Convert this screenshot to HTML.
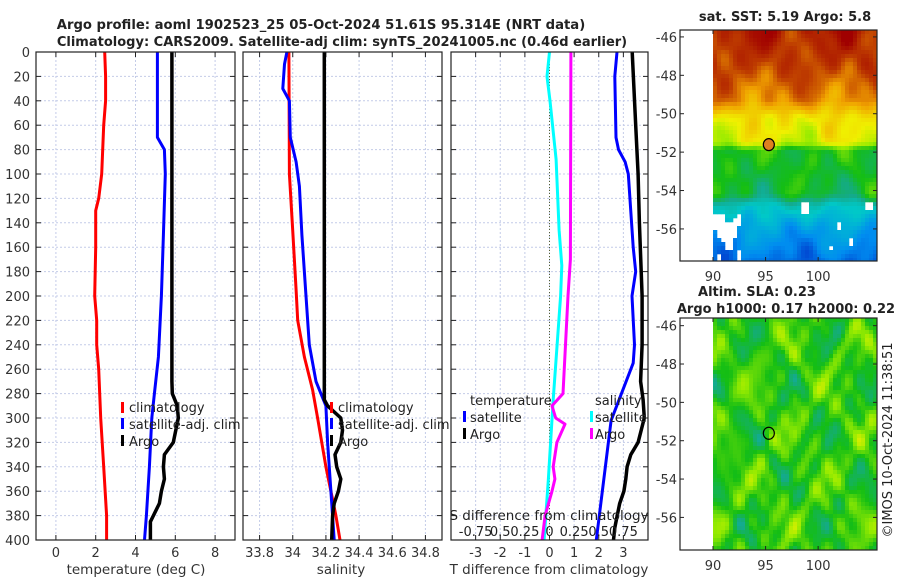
<!DOCTYPE html>
<html><head><meta charset="utf-8">
<style>
body{margin:0;background:#fff;}
svg{display:block;font-family:"DejaVu Sans","Liberation Sans",sans-serif;}
</style></head>
<body>
<svg id="fig" width="900" height="580" viewBox="0 0 900 580"></svg>
<script>
// ---------- data ----------
const depthTicks=[0,20,40,60,80,100,120,140,160,180,200,220,240,260,280,300,320,340,360,380,400];
const tTickVals=[0,2,4,6,8];
const sTickVals=[33.8,34,34.2,34.4,34.6,34.8];
const dTickVals=[-3,-2,-1,0,1,2,3];
const dsTickLabels=["-0.75","0.5","0.25","0","0.25","0.5","0.75"];
const dsTickVals=[-0.75,-0.5,-0.25,0,0.25,0.5,0.75];
const latTicks=[-46,-48,-50,-52,-54,-56];
const lonTicks=[90,95,100];

const tClimDepth=[0,20,40,60,80,100,120,130,160,200,220,240,260,280,300,340,380,400];
const tClimVal=[2.45,2.5,2.5,2.4,2.35,2.3,2.15,2.0,2.0,1.95,2.05,2.05,2.15,2.2,2.25,2.4,2.55,2.55];
const tSatDepth=[0,70,80,100,150,200,250,280,300,340,380,400];
const tSatVal=[5.1,5.1,5.45,5.5,5.4,5.3,5.15,4.95,4.82,4.7,4.55,4.45];
const tArgoDepth=[0,270,280,290,300,320,330,340,350,360,370,380,385,400];
const tArgoVal=[5.83,5.83,5.85,6.1,6.15,5.9,5.45,5.4,5.45,5.3,5.2,4.9,4.75,4.75];

const sClimDepth=[0,100,146,195,220,250,277,300,340,380,400];
const sClimVal=[33.977,33.98,34.0,34.02,34.03,34.07,34.12,34.15,34.2,34.26,34.285];
const sSatDepth=[0,10,30,40,70,90,110,150,200,240,270,280,290,320,360,400];
const sSatVal=[33.965,33.95,33.94,33.98,33.985,34.02,34.04,34.055,34.08,34.1,34.14,34.17,34.2,34.21,34.23,34.25];
const sArgoDepth=[0,285,290,300,310,320,330,340,350,360,370,380,400];
const sArgoVal=[34.19,34.19,34.21,34.29,34.3,34.29,34.255,34.265,34.29,34.275,34.25,34.24,34.235];

const dSsatDepth=[0,20,40,88,146,175,200,285,351,400];
const dSsatVal=[0,-0.1,0.02,0.27,0.39,0.5,0.45,0.15,-0.05,-0.22];
const dSargoDepth=[0,170,200,280,290,300,305,320,340,350,360,380,400];
const dSargoVal=[0.87,0.85,0.75,0.55,0.1,0.25,0.63,0.3,0.15,0.22,0.1,-0.18,-0.3];
const dTsatDepth=[0,20,70,80,90,100,160,180,200,240,255,302,400];
const dTsatVal=[2.74,2.65,2.7,2.8,3.07,3.2,3.4,3.5,3.35,3.45,3.4,2.5,1.9];
const dTargoDepth=[0,60,100,140,200,240,270,285,300,320,330,340,350,360,370,380,390,400];
const dTargoVal=[3.36,3.5,3.6,3.65,3.76,3.76,3.7,3.8,3.85,3.6,3.3,3.15,3.1,3.02,2.85,2.75,2.65,2.6];

// ---------- helpers ----------
const svg=document.getElementById('fig');
const NS='http://www.w3.org/2000/svg';
function mk(tag,attrs,parent){const e=document.createElementNS(NS,tag);for(const k in attrs)e.setAttribute(k,attrs[k]);(parent||svg).appendChild(e);return e;}
const Y0=52,Y1=540;
const yD=d=>Y0+(d/400)*(Y1-Y0);

function panel(name,x0,x1,xmin,xmax,ticks,labels,showY){
  const g=mk('g',{});
  
  
  const xs=v=>x0+(v-xmin)/(xmax-xmin)*(x1-x0);
  mk('rect',{x:x0,y:Y0,width:x1-x0,height:Y1-Y0,fill:'#fff'},g);
  depthTicks.forEach(d=>{
    const gl=mk('line',{x1:x0,x2:x1,y1:yD(d),y2:yD(d),stroke:'#c4cce8','stroke-width':1,'stroke-dasharray':'2,2'},g);
    
    
    mk('line',{x1:x0,x2:x0+5,y1:yD(d),y2:yD(d),stroke:'#222'},g);
    mk('line',{x1:x1-5,x2:x1,y1:yD(d),y2:yD(d),stroke:'#222'},g);
    if(showY){const t=mk('text',{x:x0-6,y:yD(d)+5,'text-anchor':'end','font-size':13,fill:'#333'},g);t.textContent=d;
      
      }
  });
  ticks.forEach((v,i)=>{
    const gl=mk('line',{x1:xs(v),x2:xs(v),y1:Y0,y2:Y1,stroke:'#c4cce8','stroke-width':1,'stroke-dasharray':'2,2'},g);
    
    
    mk('line',{x1:xs(v),x2:xs(v),y1:Y1-5,y2:Y1,stroke:'#222'},g);
    mk('line',{x1:xs(v),x2:xs(v),y1:Y0,y2:Y0+5,stroke:'#222'},g);
    const t=mk('text',{x:xs(v),y:557,'text-anchor':'middle','font-size':13,fill:'#333'},g);t.textContent=labels[i];
    
    
  });
  return {g,xs};
}
function line(p,depths,vals,color,name,w){
  const pts=depths.map((d,i)=>p.xs(vals[i]).toFixed(1)+','+yD(d).toFixed(1)).join(' ');
  const l=mk('polyline',{points:pts,fill:'none',stroke:color,'stroke-width':w||3,'stroke-linejoin':'round'},p.g);
  
  
}
function frame(p,x0,x1){mk('rect',{x:x0,y:Y0,width:x1-x0,height:Y1-Y0,fill:'none',stroke:'#222','stroke-width':1.2},p.g);}
function txt(x,y,s,opts,name){const t=mk('text',Object.assign({x:x,y:y,'font-size':13,fill:'#222'},opts||{}));t.textContent=s;
  
  return t;}
function legBar(x,y,color){mk('rect',{x:x,y:y-11,width:3,height:11,fill:color});}

// ---------- panel 1: temperature ----------
const p1=panel('temperature-panel',36,235,-1,9,tTickVals,tTickVals.map(String),true);
line(p1,tClimDepth,tClimVal,'#ff0000','temp-climatology-line');
line(p1,tSatDepth,tSatVal,'#0000ff','temp-satellite-line');
line(p1,tArgoDepth,tArgoVal,'#000000','temp-argo-line',3.5);
frame(p1,36,235);
txt(136,574,'temperature (deg C)',{'text-anchor':'middle','font-size':13.5,fill:'#333'},'x-axis-title-temperature');

// ---------- panel 2: salinity ----------
const p2=panel('salinity-panel',243,442,33.7,34.9,sTickVals,sTickVals.map(String),false);
line(p2,sClimDepth,sClimVal,'#ff0000','sal-climatology-line');
line(p2,sSatDepth,sSatVal,'#0000ff','sal-satellite-line');
line(p2,sArgoDepth,sArgoVal,'#000000','sal-argo-line',3.5);
frame(p2,243,442);
txt(341,574,'salinity',{'text-anchor':'middle','font-size':13.5,fill:'#333'},'x-axis-title-salinity');

// ---------- panel 3: differences ----------
const p3=panel('difference-panel',451,648,-4,4,dTickVals,dTickVals.map(String),false);
mk('line',{x1:p3.xs(0),x2:p3.xs(0),y1:Y0,y2:Y1,stroke:'#556030','stroke-width':1,'stroke-dasharray':'1,2'},p3.g);
line(p3,dTsatDepth,dTsatVal,'#0000ff','dT-satellite-line');
line(p3,dTargoDepth,dTargoVal,'#000000','dT-argo-line',3.5);
line(p3,dSsatDepth,dSsatVal,'#00ffff','dS-satellite-line');
line(p3,dSargoDepth,dSargoVal,'#ff00ff','dS-argo-line');
frame(p3,451,648);
txt(549,574,'T difference from climatology',{'text-anchor':'middle','font-size':13.5,fill:'#333'},'x-axis-title-t-diff');
txt(549,520,'S difference from climatology',{'text-anchor':'middle','font-size':13.5,fill:'#222'},'secondary-axis-title-s-diff');
dsTickVals.forEach((v,i)=>{txt(p3.xs(v*4),536,dsTickLabels[i],{'text-anchor':'middle','font-size':13,fill:'#222'},'s-diff-tick-label');});

// ---------- legends ----------
legBar(121,413,'#ff0000');txt(129,412,'climatology',{},'legend-climatology');
legBar(121,429,'#0000ff');txt(129,429,'satellite-adj. clim',{},'legend-satellite-adj');
legBar(121,446,'#000000');txt(129,446,'Argo',{},'legend-argo');
legBar(330,413,'#ff0000');txt(338,412,'climatology',{},'legend-climatology-2');
legBar(330,429,'#0000ff');txt(338,429,'satellite-adj. clim',{},'legend-satellite-adj-2');
legBar(330,446,'#000000');txt(338,446,'Argo',{},'legend-argo-2');
txt(470,405,'temperature',{},'legend-heading-temperature');
legBar(463,422,'#0000ff');txt(470,422,'satellite',{},'legend-t-satellite');
legBar(463,439,'#000000');txt(470,439,'Argo',{},'legend-t-argo');
txt(595,405,'salinity',{},'legend-heading-salinity');
legBar(590,422,'#00ffff');txt(595,422,'satellite',{},'legend-s-satellite');
legBar(590,439,'#ff00ff');txt(595,439,'Argo',{},'legend-s-argo');

// ---------- titles ----------
txt(321,29,'Argo profile: aoml 1902523_25 05-Oct-2024 51.61S 95.314E (NRT data)',{'text-anchor':'middle','font-weight':'bold','font-size':13.2},'chart-title-line1');
txt(342,46,'Climatology: CARS2009. Satellite-adj clim: synTS_20241005.nc (0.46d earlier)',{'text-anchor':'middle','font-weight':'bold','font-size':13},'chart-title-line2');

// ---------- maps ----------
const stops=[[0,[0,48,200]],[0.15,[0,140,240]],[0.3,[0,200,200]],[0.4,[20,170,140]],[0.5,[20,190,20]],[0.6,[150,235,0]],[0.68,[240,240,0]],[0.8,[240,160,0]],[0.9,[190,60,0]],[1,[160,0,0]]];
function cmap(v){v=Math.max(0,Math.min(1,v));for(let i=1;i<stops.length;i++){if(v<=stops[i][0]){const a=stops[i-1],b=stops[i];const f=(v-a[0])/(b[0]-a[0]);return 'rgb('+a[1].map((c,j)=>Math.round(c+(b[1][j]-c)*f)).join(',')+')';}}return 'rgb(160,0,0)';}
const sstLatKnots=[-45.6,-47.5,-49.3,-50.2,-51.5,-51.9,-54.2,-54.8,-56,-57.7];
const sstLatVals=[0.95,0.9,0.82,0.7,0.66,0.5,0.47,0.32,0.2,0.1];
function interp(xk,yk,x){if(x>=xk[0])return yk[0];for(let i=1;i<xk.length;i++){if(x>=xk[i]){const f=(x-xk[i-1])/(xk[i]-xk[i-1]);return yk[i-1]+(yk[i]-yk[i-1])*f;}}return yk[yk.length-1];}

function drawMap(name,y0,y1,latTop,latBot,fieldFn,marker,markerFill){
  const g=mk('g',{});
  
  
  const X0=680,X1=877,lonL=86.86,lonR=105.6;
  const lx=lon=>X0+(lon-lonL)/(lonR-lonL)*(X1-X0);
  const ly=lat=>y0+(latTop-lat)/(latTop-latBot)*(y1-y0);
  mk('rect',{x:X0,y:y0,width:X1-X0,height:y1-y0,fill:'#fff'},g);
  const cw=4,ch=4;
  for(let x=lx(90);x<X1;x+=cw){for(let y=y0;y<y1;y+=ch){
    const lon=lonL+(x+cw/2-X0)/(X1-X0)*(lonR-lonL);
    const lat=latTop-(y+ch/2-y0)/(y1-y0)*(latTop-latBot);
    const c=fieldFn(lon,lat);if(!c)continue;
    mk('rect',{x:x,y:y,width:Math.min(cw,X1-x)+0.3,height:Math.min(ch,y1-y)+0.3,fill:c},g);
  }}
  mk('rect',{x:X0,y:y0,width:X1-X0,height:y1-y0,fill:'none',stroke:'#222','stroke-width':1.2},g);
  latTicks.forEach(l=>{mk('line',{x1:X0,x2:X0+4,y1:ly(l),y2:ly(l),stroke:'#222'},g);mk('line',{x1:X1-4,x2:X1,y1:ly(l),y2:ly(l),stroke:'#222'},g);
    const t=mk('text',{x:X0-3,y:ly(l)+5,'text-anchor':'end','font-size':13,fill:'#333'},g);t.textContent=l;
    
    });
  lonTicks.forEach(l=>{mk('line',{x1:lx(l),x2:lx(l),y1:y1-4,y2:y1,stroke:'#222'},g);mk('line',{x1:lx(l),x2:lx(l),y1:y0,y2:y0+4,stroke:'#222'},g);
    const t=mk('text',{x:lx(l),y:y1+20,'text-anchor':'middle','font-size':13,fill:'#333'},g);t.textContent=l;
    
    });
  const m=mk('ellipse',{cx:lx(marker[0]),cy:ly(marker[1]),rx:5.5,ry:6,fill:markerFill,stroke:'#000','stroke-width':1.2},g);
  
  
}
function blob(lon,lat){
  return Math.sin(lon*0.83+1.7)*Math.cos(lat*1.17+0.4)+0.7*Math.sin(lon*1.61-0.9)*Math.sin(lat*1.93+2.1)+0.5*Math.cos(lon*2.37+lat*0.31)*Math.sin(lat*2.71-lon*0.2);
}
function sstField(lon,lat){
  let v=interp(sstLatKnots,sstLatVals,lat);
  v+=0.045*blob(lon,lat);
  if(lat<-54.5&&blob(lon*1.3,lat*1.1)>0.95)return null;
  if(lat<-55.3&&lon<92.5&&blob(lon*1.7,lat*1.3)>0.1)return null;
  return cmap(v);
}
function slaField(lon,lat){
  let v=0.52+0.065*blob(lon*1.05,lat*1.1)+0.03*Math.sin(lon*3.1)*Math.cos(lat*2.9);
  return cmap(v);
}
drawMap('sst-map',30,261,-45.64,-57.67,sstField,[95.31,-51.61],'#e08020');
drawMap('sla-map',318,550,-45.6,-57.7,slaField,[95.31,-51.61],'none');
txt(785,21,'sat. SST: 5.19 Argo: 5.8',{'text-anchor':'middle','font-weight':'bold','font-size':13},'sst-map-title');
txt(757,296,'Altim. SLA: 0.23',{'text-anchor':'middle','font-weight':'bold','font-size':13},'sla-map-title-line1');
txt(786,313,'Argo h1000: 0.17 h2000: 0.22',{'text-anchor':'middle','font-weight':'bold','font-size':13},'sla-map-title-line2');
txt(0,0,'©IMOS 10-Oct-2024 11:38:51',{'text-anchor':'middle','font-size':13,fill:'#222',transform:'translate(892,440) rotate(-90)'},'copyright-timestamp');
</script>
</body></html>
